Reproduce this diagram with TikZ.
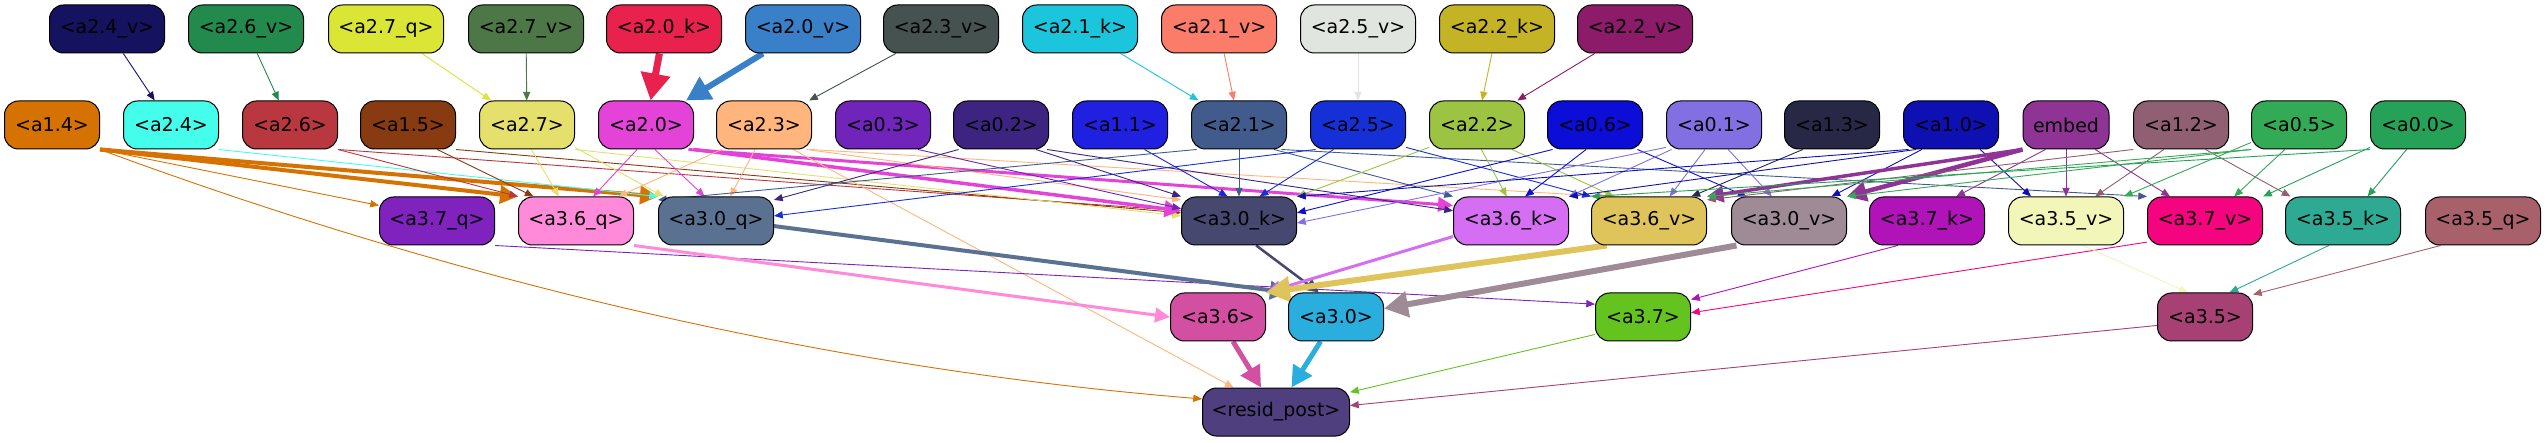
\documentclass[tikz,border=0pt]{standalone}
\usepackage{fontspec}
\setmainfont{DejaVu Sans}
\usepackage{xcolor}
\usepackage{tikz}
\usetikzlibrary{arrows.meta, backgrounds}

\definecolor{colA24v}{HTML}{15125F}
\definecolor{colA26v}{HTML}{238A4E}
\definecolor{colA27q}{HTML}{DBE535}
\definecolor{colA27v}{HTML}{4E7747}
\definecolor{colA20k}{HTML}{E8224C}
\definecolor{colA20v}{HTML}{3A80C8}
\definecolor{colA23v}{HTML}{46524F}
\definecolor{colA21k}{HTML}{1BC5DC}
\definecolor{colA21v}{HTML}{FA7C69}
\definecolor{colA25v}{HTML}{E1E5DF}
\definecolor{colA22k}{HTML}{C4B425}
\definecolor{colA22v}{HTML}{8C1C6A}
\definecolor{colA14}{HTML}{D57202}
\definecolor{colA24}{HTML}{44FDEB}
\definecolor{colA26}{HTML}{B9383F}
\definecolor{colA15}{HTML}{883A10}
\definecolor{colA27}{HTML}{E5DF6B}
\definecolor{colA20}{HTML}{E443D8}
\definecolor{colA23}{HTML}{FFB57B}
\definecolor{colA03}{HTML}{7124BA}
\definecolor{colA02}{HTML}{3C2480}
\definecolor{colA11}{HTML}{2020E0}
\definecolor{colA21}{HTML}{415B8C}
\definecolor{colA25}{HTML}{1630D8}
\definecolor{colA22}{HTML}{9CC442}
\definecolor{colA06}{HTML}{0C0DD6}
\definecolor{colA01}{HTML}{8270E2}
\definecolor{colA13}{HTML}{272846}
\definecolor{colA10}{HTML}{0E10B2}
\definecolor{colEmbed}{HTML}{8F3395}
\definecolor{colA12}{HTML}{905F72}
\definecolor{colA05}{HTML}{33AA55}
\definecolor{colA00}{HTML}{25A257}
\definecolor{colA37q}{HTML}{7F22BE}
\definecolor{colA36q}{HTML}{FE8AD9}
\definecolor{colA30q}{HTML}{5B7191}
\definecolor{colA30k}{HTML}{46486F}
\definecolor{colA36k}{HTML}{D56EF2}
\definecolor{colA36v}{HTML}{DFC45B}
\definecolor{colA30v}{HTML}{9E8B95}
\definecolor{colA37k}{HTML}{B013B8}
\definecolor{colA35v}{HTML}{F2F6B9}
\definecolor{colA37v}{HTML}{F4057F}
\definecolor{colA35k}{HTML}{2EA994}
\definecolor{colA35q}{HTML}{A8606B}
\definecolor{colA36}{HTML}{D34FA2}
\definecolor{colA30}{HTML}{2AAEDD}
\definecolor{colA37}{HTML}{64C31F}
\definecolor{colA35}{HTML}{A74174}
\definecolor{colResid}{HTML}{4F3F7F}

\begin{document}
\begin{tikzpicture}[
    x=1pt, y=1pt,
    hd/.style={draw=black, line width=1pt, rounded corners=14pt, minimum width=95pt,
               minimum height=48pt, inner sep=0pt, font=\fontsize{19}{22}\selectfont},
    hdw/.style={hd, minimum width=115pt},
    link/.style={-{Triangle[length=6pt 3, width=4pt 3.5]}, line width=0.9pt}
]
\useasboundingbox (0,0) rectangle (2547,-443);

\node[hdw, fill=colA24v] (a24v) at (107,-29) {<a2.4\_v>};
\node[hdw, fill=colA26v] (a26v) at (246,-29) {<a2.6\_v>};
\node[hdw, fill=colA27q] (a27q) at (386,-29) {<a2.7\_q>};
\node[hdw, fill=colA27v] (a27v) at (526,-29) {<a2.7\_v>};
\node[hdw, fill=colA20k] (a20k) at (664,-29) {<a2.0\_k>};
\node[hdw, fill=colA20v] (a20v) at (803,-29) {<a2.0\_v>};
\node[hdw, fill=colA23v] (a23v) at (941,-29) {<a2.3\_v>};
\node[hdw, fill=colA21k] (a21k) at (1080,-29) {<a2.1\_k>};
\node[hdw, fill=colA21v] (a21v) at (1219,-29) {<a2.1\_v>};
\node[hdw, fill=colA25v] (a25v) at (1358,-29) {<a2.5\_v>};
\node[hdw, fill=colA22k] (a22k) at (1497,-29) {<a2.2\_k>};
\node[hdw, fill=colA22v] (a22v) at (1635,-29) {<a2.2\_v>};

\node[hd, fill=colA14] (a14) at (52,-125) {<a1.4>};
\node[hd, fill=colA24] (a24) at (171,-125) {<a2.4>};
\node[hd, fill=colA26] (a26) at (290,-125) {<a2.6>};
\node[hd, fill=colA15] (a15) at (408,-125) {<a1.5>};
\node[hd, fill=colA27] (a27) at (527,-125) {<a2.7>};
\node[hd, fill=colA20] (a20) at (646,-125) {<a2.0>};
\node[hd, fill=colA23] (a23) at (764,-125) {<a2.3>};
\node[hd, fill=colA03] (a03) at (883,-125) {<a0.3>};
\node[hd, fill=colA02] (a02) at (1001,-125) {<a0.2>};
\node[hd, fill=colA11] (a11) at (1120,-125) {<a1.1>};
\node[hd, fill=colA21] (a21) at (1239,-125) {<a2.1>};
\node[hd, fill=colA25] (a25) at (1358,-125) {<a2.5>};
\node[hd, fill=colA22] (a22) at (1477,-125) {<a2.2>};
\node[hd, fill=colA06] (a06) at (1595,-125) {<a0.6>};
\node[hd, fill=colA01] (a01) at (1714,-125) {<a0.1>};
\node[hd, fill=colA13] (a13) at (1832,-125) {<a1.3>};
\node[hd, fill=colA10] (a10) at (1951,-125) {<a1.0>};
\node[hd, fill=colEmbed, minimum width=86pt] (embed) at (2066,-125) {embed};
\node[hd, fill=colA12] (a12) at (2181,-125) {<a1.2>};
\node[hd, fill=colA05] (a05) at (2299,-125) {<a0.5>};
\node[hd, fill=colA00] (a00) at (2418,-125) {<a0.0>};

\node[hdw, fill=colA37q] (a37q) at (437,-221) {<a3.7\_q>};
\node[hdw, fill=colA36q] (a36q) at (576,-221) {<a3.6\_q>};
\node[hdw, fill=colA30q] (a30q) at (716,-221) {<a3.0\_q>};
\node[hdw, fill=colA30k] (a30k) at (1239,-221) {<a3.0\_k>};
\node[hdw, fill=colA36k] (a36k) at (1511,-221) {<a3.6\_k>};
\node[hdw, fill=colA36v] (a36v) at (1649,-221) {<a3.6\_v>};
\node[hdw, fill=colA30v] (a30v) at (1789,-221) {<a3.0\_v>};
\node[hdw, fill=colA37k] (a37k) at (1927,-221) {<a3.7\_k>};
\node[hdw, fill=colA35v] (a35v) at (2066,-221) {<a3.5\_v>};
\node[hdw, fill=colA37v] (a37v) at (2205,-221) {<a3.7\_v>};
\node[hdw, fill=colA35k] (a35k) at (2343,-221) {<a3.5\_k>};
\node[hdw, fill=colA35q] (a35q) at (2483,-221) {<a3.5\_q>};

\node[hd, fill=colA36] (a36) at (1218,-317) {<a3.6>};
\node[hd, fill=colA30] (a30) at (1336,-317) {<a3.0>};
\node[hd, fill=colA37] (a37) at (1643,-317) {<a3.7>};
\node[hd, fill=colA35] (a35) at (2205,-317) {<a3.5>};

\node[hd, fill=colResid, minimum width=147pt] (resid) at (1276,-412) {<resid\_post>};

\begin{scope}[on background layer]
\fill[white] (0,0) rectangle (2547,-443);

\draw[link, colA24v] (a24v) -- (a24);
\draw[link, colA26v] (a26v) -- (a26);
\draw[link, colA27q] (a27q) -- (a27);
\draw[link, colA27v] (a27v) -- (a27);
\draw[link, colA20k, line width=7pt] (a20k) -- (a20);
\draw[link, colA20v, line width=6pt] (a20v) -- (a20);
\draw[link, colA23v] (a23v) -- (a23);
\draw[link, colA21k] (a21k) -- (a21);
\draw[link, colA21v] (a21v) -- (a21);
\draw[link, colA25v] (a25v) -- (a25);
\draw[link, colA22k] (a22k) -- (a22);
\draw[link, colA22v] (a22v) -- (a22);

\draw[link, colA14] (a14.south east) -- (a37q.165);
\draw[link, colA14, line width=4pt] (a14.south east) -- (a36q.north west);
\draw[link, colA14, line width=4pt] (a14.south east) -- (a30q.north west);
\draw[link, colA14] (a14.south east) .. controls +(368,-136) and +(-368,30) .. (resid.170);
\draw[link, colA24] (a24.south east) -- (a30q.north west);
\draw[link, colA26] (a26.south east) -- (a36q.north west);
\draw[link, colA26] (a26.south east) -- (a30k.170);
\draw[link, colA15] (a15.-40) -- (a36q.150);
\draw[link, colA15] (a15.south east) -- (a30k.172);
\draw[link, colA27] (a27.-80) -- (a36q.125);
\draw[link, colA27] (a27.-25) -- (a30q.155);
\draw[link, colA27] (a27.south east) -- (a30k.175);
\draw[link, colA20] (a20.-110) -- (a36q.55);
\draw[link, colA20] (a20.-70) -- (a30q.115);
\draw[link, colA20, line width=3.5pt] (a20.south east) -- (a30k.170);
\draw[link, colA20, line width=3pt] (a20.-30) -- (a36k.165);
\draw[link, colA23] (a23.-150) -- (a36q.30);
\draw[link, colA23] (a23.-110) -- (a30q.60);
\draw[link, colA23] (a23.-30) -- (a30k.160);
\draw[link, colA23] (a23.-28) -- (a36v.150);
\draw[link, colA23] (a23.-40) -- (resid.150);
\draw[link, colA03] (a03.-35) -- (a30k.168);
\draw[link, colA02] (a02.-150) -- (a30q.20);
\draw[link, colA02] (a02.-35) -- (a30k.north west);
\draw[link, colA02] (a02.-28) -- (a36k.170);
\draw[link, colA11] (a11.-45) -- (a30k.115);
\draw[link, colA21] (a21) -- (a30k);
\draw[link, colA21] (a21.-150) -- (a30q.160);
\draw[link, colA21] (a21.-35) -- (a36k.north west);
\draw[link, colA21] (a21.-30) -- (a37v.north west);
\draw[link, colA25] (a25.-135) -- (a30k.50);
\draw[link, colA25] (a25.-150) -- (a30q.5);
\draw[link, colA25] (a25.-25) -- (a36v.north west);
\draw[link, colA22] (a22.-155) -- (a30k.north east);
\draw[link, colA22] (a22.-80) -- (a36k.100);
\draw[link, colA22] (a22.-35) -- (a36v.145);
\draw[link, colA06] (a06.-110) -- (a36k.60);
\draw[link, colA06] (a06.-150) -- (a30k.8);
\draw[link, colA06] (a06.-30) -- (a30v.150);
\draw[link, colA01] (a01.-155) -- (a30k.-2);
\draw[link, colA01] (a01.-150) -- (a36k.north east);
\draw[link, colA01] (a01.-110) -- (a36v.50);
\draw[link, colA01] (a01.-60) -- (a30v.125);
\draw[link, colA13] (a13.-140) -- (a36v.30);
\draw[link, colA10] (a10.-150) -- (a30k.north east);
\draw[link, colA10] (a10.-145) -- (a36k.north east);
\draw[link, colA10] (a10.-140) -- (a30v.30);
\draw[link, colA10] (a10.-40) -- (a35v.145);
\draw[link, colEmbed, line width=4.5pt] (embed.south west) -- (a30v.north east);
\draw[link, colEmbed, line width=3.5pt] (embed.south west) -- (a36v.north east);
\draw[link, colEmbed] (embed.-130) -- (a37k.40);
\draw[link, colEmbed] (embed) -- (a35v);
\draw[link, colEmbed] (embed.-40) -- (a37v.145);
\draw[link, colA12] (a12.south west) -- (a36v.20);
\draw[link, colA12] (a12.-125) -- (a35v.40);
\draw[link, colA12] (a12.-45) -- (a35k.155);
\draw[link, colA05] (a05.south west) -- (a30v.north east);
\draw[link, colA05] (a05.south west) -- (a36v.north east);
\draw[link, colA05] (a05.-160) -- (a35v.north east);
\draw[link, colA05] (a05.-120) -- (a37v.40);
\draw[link, colA00] (a00.south west) -- (a36v.north west);
\draw[link, colA00] (a00.-155) -- (a37v.north east);
\draw[link, colA00] (a00.-115) -- (a35k.45);

\draw[link, colA37q] (a37q.south east) -- (a37.165);
\draw[link, colA36q, line width=3pt] (a36q.south east) -- (a36.west);
\draw[link, colA30q, line width=4pt] (a30q.-5) -- (a30.north west);
\draw[link, colA30k, line width=2.5pt] (a30k.-55) -- (a30.125);
\draw[link, colA36k, line width=3pt] (a36k.-165) -- (a36.north east);
\draw[link, colA36v, line width=6pt] (a36v.-150) -- (a36.north east);
\draw[link, colA30v, line width=6pt] (a30v.-155) -- (a30.10);
\draw[link, colA37k] (a37k.-140) -- (a37.20);
\draw[link, colA37v] (a37v.-160) -- (a37.5);
\draw[link, colA35v] (a35v.-55) -- (a35.125);
\draw[link, colA35k] (a35k.-120) -- (a35.45);
\draw[link, colA35q] (a35q.-150) -- (a35.25);

\draw[link, colA36, line width=5pt] (a36) -- (resid);
\draw[link, colA30, line width=5pt] (a30) -- (resid);
\draw[link, colA37] (a37.-160) -- (resid.15);
\draw[link, colA35] (a35.-170) -- (resid.5);
\end{scope}
\end{tikzpicture}
\end{document}
